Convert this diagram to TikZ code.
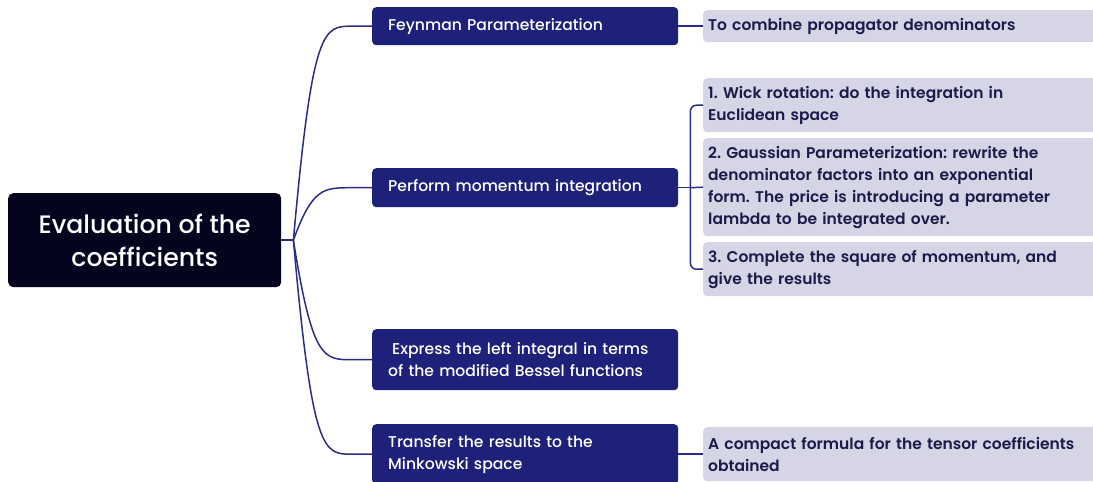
\documentclass[tikz,border=0pt]{standalone}
\usepackage{fontspec}
\setmainfont{Poppins}
\newfontfamily\popmed{Poppins Medium}
\newfontfamily\popsemi{Poppins SemiBold}
\usetikzlibrary{calc}
\definecolor{rootfill}{HTML}{04041F}
\definecolor{onefill}{HTML}{1E217A}
\definecolor{twofill}{HTML}{D5D5E6}
\definecolor{twotext}{HTML}{1B1B48}
\definecolor{linecol}{HTML}{2A2D86}
\frenchspacing
\tikzset{
  rootbox/.style={anchor=north west, fill=rootfill, text=white, rounded corners=5pt,
    minimum width=273pt, minimum height=94pt, align=center, inner sep=0pt,
    font=\popmed\fontsize{25.2}{33}\selectfont},
  lvlone/.style={anchor=north west, fill=onefill, text=white, rounded corners=4pt,
    minimum width=306pt, text width=274pt, inner xsep=16pt, inner ysep=0pt, align=left,
    font=\popmed\fontsize{15.6}{22}\selectfont},
  lvltwo/.style={anchor=north west, fill=twofill, text=twotext, rounded corners=4pt,
    minimum width=400pt, text width=390pt, inner xsep=5pt, inner ysep=0pt, align=left,
    font=\popsemi\fontsize{15.5}{22}\selectfont},
  conn/.style={draw=linecol, line width=1.5pt}
}
\begin{document}
\begin{tikzpicture}[x=1pt,y=-1pt]
\useasboundingbox (0,0) rectangle (1093,482);
\clip (0,0) rectangle (1093,482);
\node[rootbox] (root) at (8,193) {Evaluation of the\\coefficients};
\node[lvlone, minimum height=38pt] (fp) at (372,7) {Feynman Parameterization};
\node[lvlone, minimum height=39pt] (pm) at (372,168) {Perform momentum integration};
\node[lvlone, minimum height=61pt] (ex) at (372,329) {\hspace*{4pt}Express the left integral in terms\\of the modified Bessel functions};
\node[lvlone, minimum height=60pt] (tr) at (372,424) {Transfer the results to the\\Minkowski space};
\node[lvltwo, minimum height=32pt] (cb) at (703,10) {To combine propagator denominators};
\node[lvltwo, minimum height=54pt] (wk) at (703,78) {1. Wick rotation: do the integration in\\Euclidean space};
\node[lvltwo, minimum height=98pt] (gs) at (703,138) {2. Gaussian Parameterization: rewrite the\\denominator factors into an exponential\\form. The price is introducing a parameter\\lambda to be integrated over.};
\node[lvltwo, minimum height=54pt] (sq) at (703,242) {3. Complete the square of momentum, and\\give the results};
\node[lvltwo, minimum height=54pt] (cf) at (703,427) {A compact formula for the tensor coefficients\\obtained};
\draw[conn] (root.east) -- ++(12,0) coordinate (fork);
\foreach \t in {fp,pm,ex,tr}{
  \draw[conn] (fork) .. controls ($(fork |- \t.west)+(19,0)$) and ($(fork |- \t.west)+(30,0)$) .. ($(\t.west)+(-20,0)$) -- (\t.west);
}
\draw[conn] (fp.east) -- (cb.west);
\draw[conn] (tr.east) -- (cf.west);
\draw[conn] (pm.east) -- ++(12,0) coordinate (bk);
\draw[conn] (bk) -- (gs.west);
\draw[conn, rounded corners=6pt] (wk.west) -- (bk |- wk.west) -- (bk |- sq.west) -- (sq.west);
\end{tikzpicture}
\end{document}
